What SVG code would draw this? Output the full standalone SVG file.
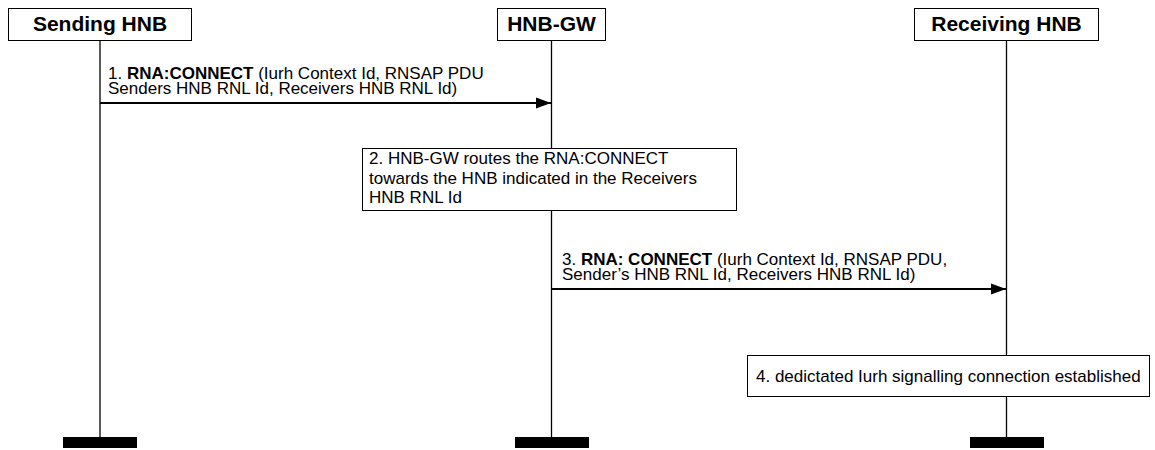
<svg xmlns="http://www.w3.org/2000/svg" width="1155" height="450" viewBox="0 0 1155 450">
<style>
.box{fill:#fff;stroke:#000;stroke-width:1}
.hd{font-family:"Liberation Sans",Arial,sans-serif;font-size:21px;font-weight:bold;text-anchor:middle;fill:#000}
.t{font-family:"Liberation Sans",Arial,sans-serif;font-size:17px;fill:#000}
.life{stroke:#000;stroke-width:1.3;fill:none}
.msg{stroke:#000;stroke-width:2;fill:none;marker-end:url(#ah)}
.bar{fill:#000}
</style>
<defs>
<marker id="ah" markerUnits="userSpaceOnUse" markerWidth="15" markerHeight="12" refX="15" refY="6" orient="auto">
<path d="M0,0.5 L15,6 L0,11.5 z" fill="#000"/>
</marker>
</defs>
<g id="lifelines">
<line class="life" x1="100" y1="41" x2="100" y2="437"/>
<line class="life" x1="551.5" y1="41" x2="551.5" y2="437"/>
<line class="life" x1="1006.5" y1="41" x2="1006.5" y2="437"/>
</g>
<g id="sending-hnb">
<rect class="box" x="8.5" y="8.5" width="183" height="32"/>
<text class="hd" x="100" y="31">Sending HNB</text>
<rect class="bar" x="63" y="437" width="74" height="11"/>
</g>
<g id="hnb-gw">
<rect class="box" x="497.5" y="8.5" width="108" height="32"/>
<text class="hd" x="551.5" y="31">HNB-GW</text>
<rect class="bar" x="515" y="437" width="74" height="11"/>
</g>
<g id="receiving-hnb">
<rect class="box" x="914.5" y="8.5" width="184" height="32"/>
<text class="hd" x="1006.5" y="31">Receiving HNB</text>
<rect class="bar" x="970" y="437" width="74" height="11"/>
</g>
<g id="connectors">
<line class="msg" x1="100" y1="103" x2="551" y2="103"/>
<line class="msg" x1="551.5" y1="289" x2="1006" y2="289"/>
</g>
<g id="msg1-label">
<text class="t" x="108" y="79">1. <tspan font-weight="bold">RNA:CONNECT</tspan> (Iurh Context Id, RNSAP PDU</text>
<text class="t" x="108" y="94">Senders HNB RNL Id, Receivers HNB RNL Id)</text>
</g>
<g id="step2">
<rect class="box" x="362.5" y="148.5" width="374" height="62"/>
<text class="t" x="369" y="164">2. HNB-GW routes the RNA:CONNECT</text>
<text class="t" x="369" y="183.5">towards the HNB indicated in the Receivers</text>
<text class="t" x="369" y="203">HNB RNL Id</text>
</g>
<g id="msg3-label">
<text class="t" x="562" y="265">3. <tspan font-weight="bold">RNA: CONNECT</tspan> (Iurh Context Id, RNSAP PDU,</text>
<text class="t" x="562" y="280">Sender’s HNB RNL Id, Receivers HNB RNL Id)</text>
</g>
<g id="step4">
<rect class="box" x="747.5" y="355.5" width="402" height="41"/>
<text class="t" x="756" y="382">4. dedictated Iurh signalling connection established</text>
</g>
</svg>
